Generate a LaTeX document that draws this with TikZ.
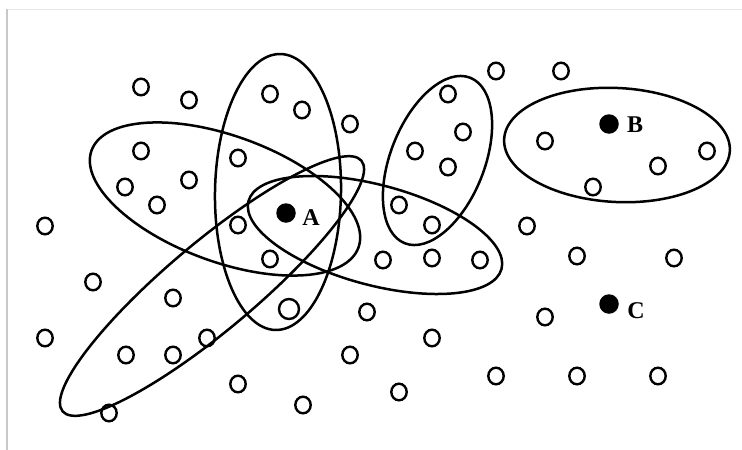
\documentclass[tikz,border=0pt]{standalone}
\usepackage{fontspec}
\setmainfont{Liberation Serif}
\usetikzlibrary{shapes.geometric}
\definecolor{edgegray}{RGB}{200,200,200}
\definecolor{topgray}{RGB}{232,232,232}
\begin{document}
\begin{tikzpicture}[x=1pt,y=-1pt,
  ring/.style={draw, ellipse, line width=2.4pt, minimum width=15.4pt, minimum height=16.6pt, inner sep=0pt},
  bigring/.style={ring, minimum width=20pt, minimum height=20pt},
  dot/.style={fill, circle, minimum size=19.5pt, inner sep=0pt},
  lbl/.style={font=\fontsize{24}{26}\selectfont\bfseries, inner sep=0pt},
  hull/.style={line width=2.5pt}]
\useasboundingbox (0,0) rectangle (742,450);
\fill[white] (0,0) rectangle (742,450);
\draw[topgray, line width=1pt] (7,9.5) -- (742,9.5);
\draw[edgegray, line width=2pt] (7,9) -- (7,450);
% open points
\foreach \px/\py [count=\i] in {
  141/87, 189/100, 270/94, 302/110, 350/124, 496/71, 561/71, 448/94,
  463/132, 415/151, 448/167, 545/141, 658/166, 707/151, 593/187,
  141/151, 238/158, 125/187, 189/180, 157/205, 238/225, 399/205,
  432/225, 527/226, 45/226, 270/259, 383/260, 432/258, 480/260,
  577/256, 674/258, 93/282, 173/298, 367/312, 545/317, 45/338,
  126/355, 173/355, 207/338, 350/355, 432/338, 238/384, 303/405,
  399/392, 496/376, 577/376, 658/376, 109/413}
  \node[ring] (p\i) at (\px,\py) {};
\node[bigring] (pbig) at (289,309) {};
% labelled points
\node[dot] (a) at (286,213) {};
\node[dot] (b) at (609,124) {};
\node[dot] (c) at (609,304) {};
\node[lbl] (la) at (311,218) {A};
\node[lbl] (lb) at (635,125) {B};
\node[lbl] (lc) at (636,311) {C};
% neighbourhood ellipses
\draw[hull] (278,192) ellipse [x radius=63, y radius=138, rotate=-1];
\draw[hull] (225,199) ellipse [x radius=142, y radius=63, rotate=-20];
\draw[hull] (212,286) ellipse [x radius=195, y radius=44, rotate=40];
\draw[hull] (375,235) ellipse [x radius=131, y radius=50, rotate=-15];
\draw[hull] (437.5,160.5) ellipse [x radius=47, y radius=89, rotate=-21.6];
\draw[hull] (617,145) ellipse [x radius=113, y radius=57, rotate=-3];
\end{tikzpicture}
\end{document}
